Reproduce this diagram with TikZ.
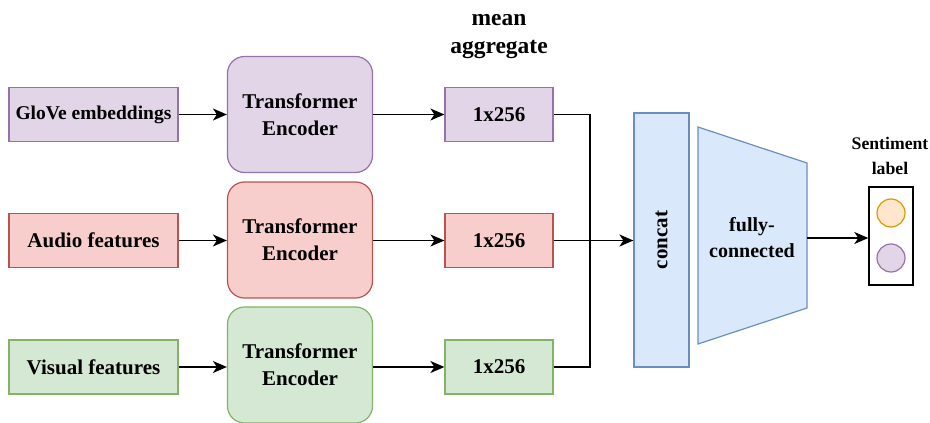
\documentclass[tikz,border=0pt]{standalone}
\usepackage{fontspec}
\setmainfont{Liberation Serif}
\usetikzlibrary{arrows.meta}
\definecolor{pfill}{HTML}{E1D5E7}\definecolor{pdraw}{HTML}{9673A6}
\definecolor{rfill}{HTML}{F8CECC}\definecolor{rdraw}{HTML}{B85450}
\definecolor{gfill}{HTML}{D5E8D4}\definecolor{gdraw}{HTML}{82B366}
\definecolor{bfill}{HTML}{DAE8FC}\definecolor{bdraw}{HTML}{6C8EBF}
\definecolor{ofill}{HTML}{FFE6CC}\definecolor{odraw}{HTML}{D79B00}
\begin{document}
\begin{tikzpicture}[x=1pt,y=-1pt,
  txt/.style={font=\fontsize{21}{27}\selectfont\bfseries, align=center},
  inbox/.style={txt, draw, line width=1.2pt, inner sep=0pt, minimum width=169pt, minimum height=54pt},
  encbox/.style={txt, draw, line width=1.2pt, rounded corners=17pt, inner sep=0pt, minimum width=145pt, minimum height=116pt},
  aggbox/.style={txt, draw, line width=1.2pt, inner sep=0pt, minimum width=108pt, minimum height=54pt},
  conn/.style={line width=1.7pt, black},
  arr/.style={conn, -{Stealth[length=14pt, width=12pt, inset=4pt]}},
  P/.style={fill=pfill, draw=pdraw}, R/.style={fill=rfill, draw=rdraw}, G/.style={fill=gfill, draw=gdraw}
]
\useasboundingbox (0,0) rectangle (930,423);
% inputs
\node[inbox,P,font=\fontsize{19.5}{26}\selectfont\bfseries] (in1) at (93.5,114.5) {GloVe embeddings};
\node[inbox,R] (in2) at (93.5,240.5) {Audio features};
\node[inbox,G] (in3) at (93.5,367) {Visual features};
% encoders
\node[encbox,P] (enc1) at (300,114.5) {Transformer\\Encoder};
\node[encbox,R] (enc2) at (300,240) {Transformer\\Encoder};
\node[encbox,G] (enc3) at (300,365) {Transformer\\Encoder};
% aggregate
\node[aggbox,P] (agg1) at (499,114.5) {1x256};
\node[aggbox,R] (agg2) at (499,240.5) {1x256};
\node[aggbox,G] (agg3) at (499,367) {1x256};
\node[font=\fontsize{23.5}{28}\selectfont\bfseries, align=center] (mean) at (499,37) {mean\\aggregate};
% concat
\node[draw=bdraw, fill=bfill, line width=1.2pt, minimum width=55pt, minimum height=254pt, inner sep=0pt] (cat) at (661.5,240) {};
\node[txt, rotate=90] (cattxt) at (cat.center) {concat};
% fully connected trapezoid
\coordinate (t1) at (698,127);
\coordinate (t2) at (807,163);
\coordinate (t3) at (807,308);
\coordinate (t4) at (698,344);
\coordinate (fcout) at (807,238);
\draw[draw=bdraw, fill=bfill, line width=1.2pt] (t1) -- (t2) -- (t3) -- (t4) -- cycle;
\node[font=\fontsize{20}{26}\selectfont\bfseries, align=center] (fc) at (752,238) {fully-\\connected};
% sentiment label
\node[draw, line width=1.4pt, fill=white, minimum width=44pt, minimum height=98pt, inner sep=0pt] (lab) at (891,236) {};
\node[circle, draw=odraw, fill=ofill, line width=1.2pt, minimum size=28pt, inner sep=0pt] (c1) at (891,213) {};
\node[circle, draw=pdraw, fill=pfill, line width=1.2pt, minimum size=28pt, inner sep=0pt] (c2) at (891,258) {};
\node[font=\fontsize{17.7}{25}\selectfont\bfseries, align=center] (sl) at (890,156) {Sentiment\\label};
% connectors
\foreach \i in {1,2,3} {
  \draw[arr] (in\i) -- (enc\i.west |- in\i);
  \draw[arr] (enc\i.east |- agg\i) -- (agg\i);
}
\coordinate (bus) at (590,240.5);
\draw[conn] (agg1.east) -| (bus);
\draw[conn] (agg3.east) -| (bus);
\draw[arr] (agg2.east) -- (cat.west |- agg2);
\draw[arr] (fcout) -- (lab.west |- fcout);
\end{tikzpicture}
\end{document}
